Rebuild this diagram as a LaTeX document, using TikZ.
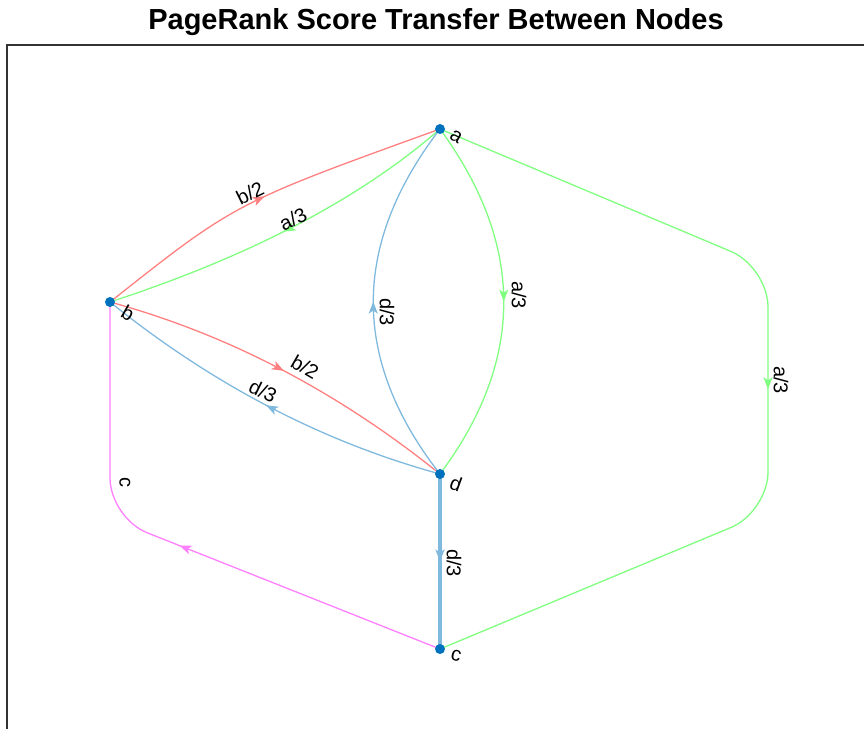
\documentclass[tikz,border=0pt]{standalone}
\usepackage{fontspec}
\setmainfont{Liberation Sans}
\usetikzlibrary{arrows.meta,decorations.markings}
\definecolor{ered}{RGB}{255,128,128}
\definecolor{egreen}{RGB}{128,255,128}
\definecolor{eblue}{RGB}{128,185,222}
\definecolor{emag}{RGB}{255,128,255}
\definecolor{vblue}{RGB}{0,114,189}
\begin{document}
\begin{tikzpicture}[x=1pt,y=1pt,
  edge/.style={line width=1.3pt,postaction={decorate},
    decoration={markings,mark=at position 0.5 with {\arrow{Stealth[length=12pt,width=9pt,inset=3pt]}}}},
  vtx/.style={circle,fill=vblue,inner sep=0pt,minimum size=10pt},
  elab/.style={font=\fontsize{20}{20}\selectfont,inner sep=0pt}]
\useasboundingbox (0,0) rectangle (864,-729);
\node[font=\bfseries\fontsize{29}{29}\selectfont] (title) at (436,-22) {PageRank Score Transfer Between Nodes};
\draw[black!80,line width=1.5pt] (7,-729) -- (7,-45) -- (864,-45);
% vertices
\coordinate (a) at (440,-129); \coordinate (b) at (110,-302);
\coordinate (d) at (440,-474); \coordinate (c) at (440,-649);
% edges
\draw[edge,ered] (b) .. controls (235,-203) .. (a);
\draw[edge,egreen] (a) .. controls (361,-198) and (251,-256) .. (b);
\draw[edge,ered] (b) .. controls (227,-334) and (337,-391) .. (d);
\draw[edge,eblue] (d) .. controls (323,-442) and (213,-385) .. (b);
\draw[edge,eblue] (d) .. controls (351,-360) and (351,-245) .. (a);
\draw[edge,egreen] (a) .. controls (525,-245) and (525,-360) .. (d);
\draw[edge,egreen,rounded corners=40pt] (a) -- (768,-267) -- (768,-512) -- (c);
\draw[edge,eblue,line width=3.5pt] (d) -- (c);
\draw[edge,emag,rounded corners=40pt] (c) -- (110,-518) -- (b);
\foreach \v in {a,b,c,d}{\node[vtx] (v\v) at (\v) {};}
% edge labels
\node[elab,rotate=26] (lba) at (250,-193) {b/2};
\node[elab,rotate=26] (lab) at (293,-219) {a/3};
\node[elab,rotate=-30] (lbd) at (305,-367) {b/2};
\node[elab,rotate=-26] (ldb) at (263,-391) {d/3};
\node[elab,rotate=-90] (lda) at (387,-312) {d/3};
\node[elab,rotate=-90] (lad) at (519,-295) {a/3};
\node[elab,rotate=-90] (lac) at (781,-380) {a/3};
\node[elab,rotate=-90] (ldc) at (454,-563) {d/3};
\node[elab,rotate=-90] (lcb) at (125,-482) {c};
% vertex labels
\node[elab,rotate=-30] (na) at (456,-137) {a};
\node[elab,rotate=-30] (nb) at (128,-313) {b};
\node[elab,rotate=-20] (nd) at (456,-484) {d};
\node[elab,rotate=-15] (nc) at (456,-656) {c};
\end{tikzpicture}
\end{document}
